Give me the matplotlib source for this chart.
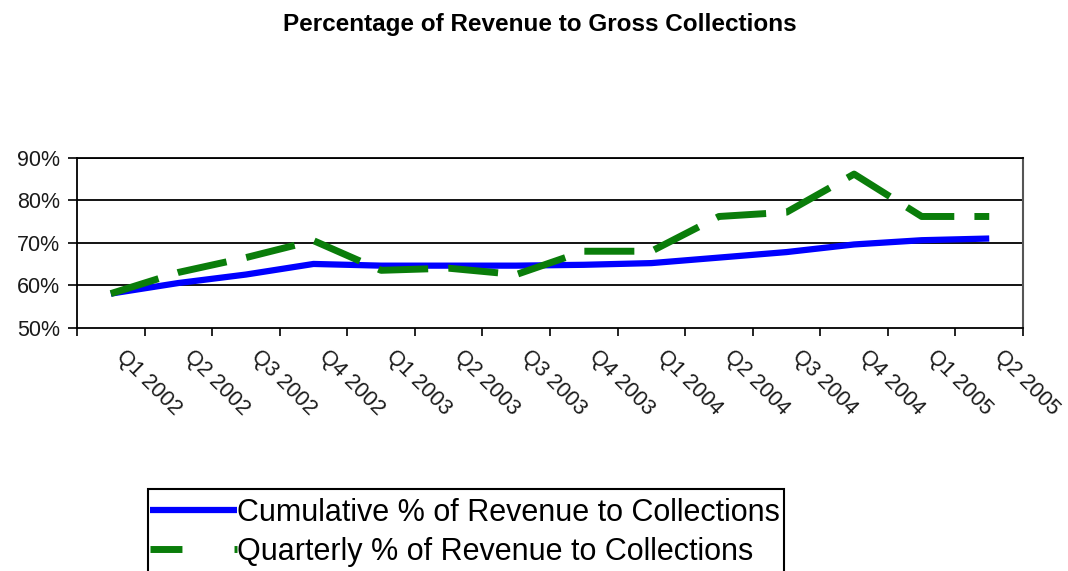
import matplotlib
matplotlib.use('Agg')
import matplotlib.pyplot as plt
from matplotlib.lines import Line2D
from matplotlib.patches import Rectangle
from matplotlib.transforms import ScaledTranslation
import numpy as np

# Data
quarters = ['Q1 2002', 'Q2 2002', 'Q3 2002', 'Q4 2002',
            'Q1 2003', 'Q2 2003', 'Q3 2003', 'Q4 2003',
            'Q1 2004', 'Q2 2004', 'Q3 2004', 'Q4 2004',
            'Q1 2005', 'Q2 2005']
cumulative = [58.0, 60.5, 62.5, 65.0, 64.6, 64.6, 64.6, 64.8, 65.2, 66.5, 67.8, 69.6, 70.6, 71.0]
quarterly = [58.0, 63.0, 66.5, 70.5, 63.5, 64.0, 62.5, 68.0, 68.0, 76.2, 77.2, 86.2, 76.2, 76.2]
yticks = [50, 60, 70, 80, 90]

plt.rcParams['font.family'] = ['Liberation Sans', 'DejaVu Sans']

blue = '#0000ff'
green = '#0a7d0a'

fig = plt.figure(figsize=(10.68, 5.71), dpi=100)
ax = fig.add_axes([0.0721, 0.4264, 0.8858, 0.2969])

x = np.arange(len(quarters)) + 0.5
ax.plot(x, cumulative, color=blue, lw=4.5, solid_capstyle='butt', zorder=3)
ax.plot(x, quarterly, color=green, lw=5, dashes=(7.2, 2.9), dash_capstyle='butt', zorder=4)

# Axes limits / grid
ax.set_xlim(0, len(quarters))
ax.set_ylim(50, 90)
ax.set_yticks(yticks)
ax.set_yticklabels([f'{v}%' for v in yticks], fontsize=15.5, color='#1a1a1a')
for v in yticks[1:]:
    ax.axhline(v, color='black', lw=1.3, zorder=1)

# Category boundaries as major ticks, labels at centers
ax.set_xticks(np.arange(len(quarters) + 1))
ax.set_xticklabels([])
ax.set_xticks(x, minor=True)
ax.set_xticklabels(quarters, minor=True, fontsize=15.5, rotation=-45,
                   ha='left', va='top', rotation_mode='anchor', color='#1a1a1a')
ax.tick_params(axis='x', which='minor', length=0, pad=13.5)
ax.tick_params(axis='x', which='major', length=6, width=1.2, direction='out')
ax.tick_params(axis='y', length=6.5, width=1.2, direction='out', pad=5.5)
for lab in ax.get_xticklabels(minor=True):
    lab.set_transform(lab.get_transform() + ScaledTranslation(0.16, 0, fig.dpi_scale_trans))

for side in ['left', 'bottom', 'top']:
    ax.spines[side].set_color('black')
    ax.spines[side].set_linewidth(1.3)
ax.spines['right'].set_color('#555555')
ax.spines['right'].set_linewidth(1.5)

# Title
fig.text(0.505, 1 - 25 / 571, 'Percentage of Revenue to Gross Collections',
         ha='center', va='center', fontsize=17.5, fontweight='bold')

# Legend (box runs off the bottom of the picture, as in the original)
handles = [Line2D([], [], color=blue, lw=4.5, solid_capstyle='butt'),
           Line2D([], [], color=green, lw=5, dashes=(4.6, 7.5), dash_capstyle='butt')]
leg = fig.legend(handles, ['Cumulative % of Revenue to Collections',
                           'Quarterly % of Revenue to Collections'],
                 loc='upper left', bbox_to_anchor=(150 / 1068, 1 - 498 / 571),
                 fontsize=22, frameon=False, borderpad=0, labelspacing=0.3,
                 handlelength=2.85, handletextpad=0.0, borderaxespad=0)
fig.add_artist(Rectangle((148 / 1068, -0.05), (784 - 148) / 1068, 0.05 + (571 - 489) / 571,
                         transform=fig.transFigure, fill=False, edgecolor='black', lw=1.5))

fig.savefig('out.png', dpi=100)
